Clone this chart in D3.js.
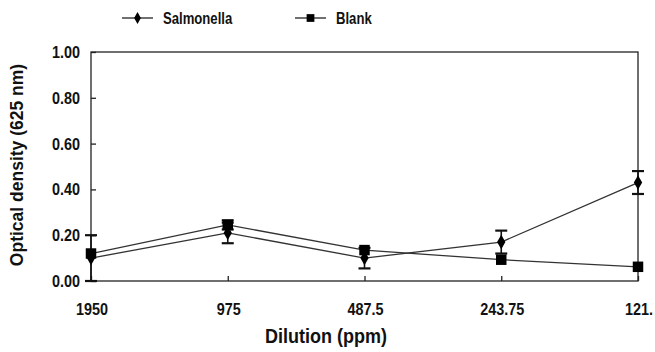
<!DOCTYPE html>
<html>
<head>
<meta charset="utf-8">
<script src="https://cdnjs.cloudflare.com/ajax/libs/d3/7.8.5/d3.min.js"></script>
<style>
  body { margin: 0; background: #fff; }
  svg text { font-family: "Liberation Sans", Arial, sans-serif; font-weight: bold; fill: #111; }
</style>
</head>
<body>
<svg id="chart" width="655" height="352"></svg>
<script>
// dilution steps (categories) and measured optical density
var dilutions = ["1950", "975", "487.5", "243.75", "121."];
var salmonella = [0.10, 0.21, 0.10, 0.17, 0.43];
var salmonellaErr = [0.10, 0.045, 0.045, 0.05, 0.05];
var blank = [0.12, 0.245, 0.135, 0.093, 0.062];
var blankErr = [0, 0.02, 0, 0, 0];
var yTicks = [0, 0.2, 0.4, 0.6, 0.8, 1.0];

var svg = d3.select("#chart");
var m = {left: 91, right: 638, top: 52, bottom: 281};

var x = d3.scalePoint().domain(dilutions).range([m.left, m.right]);
var y = d3.scaleLinear().domain([0, 1]).range([m.bottom, m.top]);

// condensed-looking text: place at (tx,ty) and squeeze horizontally
function label(tx, ty, str, size, anchor, sx) {
  return svg.append("text")
    .attr("transform", "translate(" + tx + "," + ty + ") scale(" + (sx || 1) + ",1)")
    .attr("text-anchor", anchor || "start")
    .style("font-size", size + "px")
    .text(str);
}

// frame
svg.append("rect")
  .attr("x", m.left).attr("y", m.top)
  .attr("width", m.right - m.left).attr("height", m.bottom - m.top)
  .style("fill", "none").style("stroke", "#222").style("stroke-width", 1.3);

// y axis, ticks pointing inward
var yAxis = svg.append("g").attr("transform", "translate(" + m.left + ",0)")
  .call(d3.axisRight(y).tickValues(yTicks).tickSize(5).tickFormat(""));
yAxis.select(".domain").remove();
yAxis.selectAll("line").style("stroke", "#222").style("stroke-width", 1.3);

yTicks.forEach(function (d) {
  label(80, y(d) + 6, d.toFixed(2), 16, "end", 0.9);
});

// x axis, ticks pointing up into the plot
var xAxis = svg.append("g").attr("transform", "translate(0," + m.bottom + ")")
  .call(d3.axisTop(x).tickSize(5).tickFormat(""));
xAxis.select(".domain").remove();
xAxis.selectAll("line").style("stroke", "#222").style("stroke-width", 1.3);

dilutions.forEach(function (d) {
  label(x(d) + 1, 315, d, 16, "middle", 0.9);
});

// axis titles
label(326, 343, "Dilution (ppm)", 20, "middle", 0.9);

svg.append("text")
  .attr("transform", "translate(23,165) rotate(-90)")
  .attr("text-anchor", "middle")
  .style("font-size", "17.5px")
  .text("Optical density (625 nm)");

var line = d3.line().x((d, i) => x(dilutions[i])).y(d => y(d));

function drawErr(vals, errs) {
  var g = svg.append("g");
  vals.forEach(function (v, i) {
    if (!errs[i]) return;
    var cx = x(dilutions[i]);
    var lo = y(Math.max(0, v - errs[i])), hi = y(v + errs[i]);
    g.append("line").attr("x1", cx).attr("x2", cx).attr("y1", lo).attr("y2", hi)
      .style("stroke", "#111").style("stroke-width", 1.6);
    [lo, hi].forEach(function (yy) {
      g.append("line").attr("x1", cx - 6).attr("x2", cx + 6).attr("y1", yy).attr("y2", yy)
        .style("stroke", "#111").style("stroke-width", 2.2);
    });
  });
}

drawErr(salmonella, salmonellaErr);
drawErr(blank, blankErr);

svg.append("path").datum(salmonella).attr("d", line)
  .style("fill", "none").style("stroke", "#333").style("stroke-width", 1.3);
svg.append("path").datum(blank).attr("d", line)
  .style("fill", "none").style("stroke", "#333").style("stroke-width", 1.3);

var diamond = d3.symbol().type(d3.symbolDiamond).size(60);
var square = d3.symbol().type(d3.symbolSquare).size(110);

svg.selectAll("path.sal").data(salmonella).enter()
  .append("path").attr("class", "sal")
  .attr("d", diamond)
  .attr("transform", (d, i) => "translate(" + x(dilutions[i]) + "," + y(d) + ")")
  .style("fill", "#000");

svg.selectAll("path.blk").data(blank).enter()
  .append("path").attr("class", "blk")
  .attr("d", square)
  .attr("transform", (d, i) => "translate(" + x(dilutions[i]) + "," + y(d) + ")")
  .style("fill", "#000");

// legend
var legend = [
  {name: "Salmonella", sym: d3.symbol().type(d3.symbolDiamond).size(40), x0: 122},
  {name: "Blank", sym: d3.symbol().type(d3.symbolSquare).size(60), x0: 295}
];
legend.forEach(function (l) {
  var g = svg.append("g").attr("transform", "translate(" + l.x0 + ",18)");
  g.append("line").attr("x1", 0).attr("x2", 31).attr("y1", 0).attr("y2", 0)
    .style("stroke", "#222").style("stroke-width", 1.3);
  g.append("path").attr("d", l.sym())
    .attr("transform", "translate(15.5,0)").style("fill", "#000");
  label(l.x0 + 41, 24, l.name, 16, "start", 0.82);
});
</script>
</body>
</html>
